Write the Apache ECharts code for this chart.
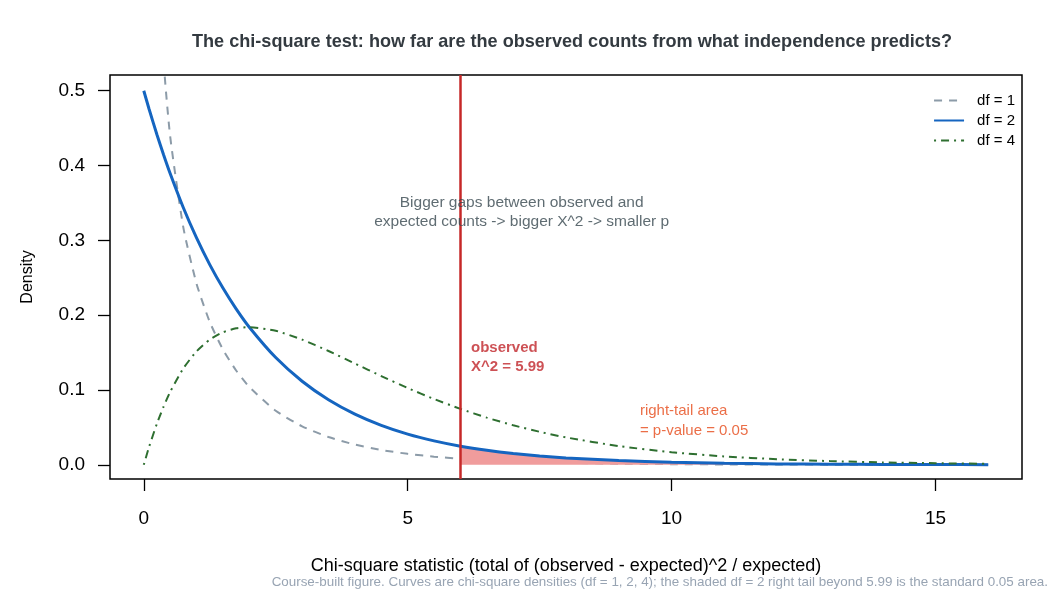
<!DOCTYPE html>
<html>
<head>
<meta charset="utf-8">
<title>Chi-square densities</title>
<script src="https://cdn.jsdelivr.net/npm/echarts@6/dist/echarts.min.js"></script>
<style>
  html, body { margin: 0; padding: 0; background: #fff; }
  #main { width: 1060px; height: 600px; }
</style>
</head>
<body>
<div id="main"></div>
<script>
// x values shared by the three curves
var xs = [0, 0.1, 0.25, 0.375, 0.5, 0.75, 1, 1.25, 1.5, 1.75, 2, 2.5, 3, 3.5, 4, 4.5, 5, 5.5, 6, 6.5, 7, 7.5, 8, 9, 10, 11, 12, 13, 14, 15, 16];
// density values
var df1 = [null, 1.200, 0.704, 0.540, 0.439, 0.317, 0.242, 0.191, 0.154, 0.126, 0.104, 0.0723, 0.0514, 0.0371, 0.0270, 0.0198, 0.0146, 0.0109, 0.0081, 0.0061, 0.0046, 0.0034, 0.0026, 0.0015, 0.0008, 0.0005, 0.0003, 0.0002, 0.0001, 0.0001, 0.0000];
var df2 = [0.5, 0.4756, 0.4412, 0.4145, 0.3894, 0.3436, 0.3033, 0.2676, 0.2362, 0.2084, 0.1839, 0.1433, 0.1116, 0.0869, 0.0677, 0.0527, 0.0410, 0.0320, 0.0249, 0.0194, 0.0151, 0.0118, 0.0092, 0.0056, 0.0034, 0.0020, 0.0012, 0.0008, 0.0005, 0.0003, 0.0002];
var df4 = [0, 0.0238, 0.0552, 0.0777, 0.0974, 0.1289, 0.1516, 0.1673, 0.1771, 0.1824, 0.1839, 0.1791, 0.1673, 0.1521, 0.1353, 0.1186, 0.1026, 0.0879, 0.0747, 0.0630, 0.0528, 0.0441, 0.0366, 0.0250, 0.0168, 0.0112, 0.0074, 0.0049, 0.0032, 0.0021, 0.0013];
// shaded right tail of df = 2 beyond the observed statistic
var tailX = [5.99, 6.5, 7, 7.5, 8, 9, 10, 11, 12, 13, 14, 15, 16];
var tailY = [0.0250, 0.0194, 0.0151, 0.0118, 0.0092, 0.0056, 0.0034, 0.0020, 0.0012, 0.0008, 0.0005, 0.0003, 0.0002];
var observedX2 = 5.99;
var xTicks = [0, 5, 10, 15];
var yTicks = [0, 0.1, 0.2, 0.3, 0.4, 0.5];

function pairs(x, y) {
    var out = [];
    for (var i = 0; i < x.length; i++) {
        if (y[i] !== null) out.push([x[i], y[i]]);
    }
    return out;
}

var font = "'Liberation Sans', Arial, sans-serif";
var chart = echarts.init(document.getElementById('main'), null, { renderer: 'canvas' });

var option = {
    animation: false,
    textStyle: { fontFamily: font },
    title: {
        text: 'The chi-square test: how far are the observed counts from what independence predicts?',
        left: 567,
        textAlign: 'center',
        top: 28,
        textStyle: { fontSize: 18.1, fontWeight: 'bold', color: '#333a40', fontFamily: font }
    },
    legend: {
        data: ['df = 1', 'df = 2', 'df = 4'],
        orient: 'vertical',
        right: 40,
        top: 88,
        itemWidth: 30,
        itemHeight: 14,
        itemGap: 5,
        itemStyle: { opacity: 0 },
        textStyle: { fontSize: 15, color: '#000', fontFamily: font, padding: [0, 0, 0, 8] }
    },
    grid: {
        left: 110, right: 38, top: 75, bottom: 121,
        show: true, borderColor: '#000', borderWidth: 1.5, backgroundColor: 'transparent'
    },
    xAxis: {
        type: 'value',
        min: -0.64, max: 16.64,
        name: 'Chi-square statistic (total of (observed - expected)^2 / expected)',
        nameLocation: 'middle',
        nameGap: 78,
        nameTextStyle: { fontSize: 18, color: '#000', fontFamily: font },
        axisLine: { show: false, onZero: false },
        axisTick: { show: true, length: 12, customValues: xTicks, lineStyle: { color: '#000', width: 1.3 } },
        axisLabel: { customValues: xTicks, margin: 30, fontSize: 19, color: '#000', fontFamily: font },
        splitLine: { show: false }
    },
    yAxis: {
        type: 'value',
        min: -0.019, max: 0.521,
        name: 'Density',
        nameLocation: 'middle',
        nameGap: 74,
        nameTextStyle: { fontSize: 16, color: '#000', fontFamily: font },
        axisLine: { show: false, onZero: false },
        axisTick: { show: true, length: 12, customValues: yTicks, lineStyle: { color: '#000', width: 1.3 } },
        axisLabel: {
            customValues: yTicks, margin: 25, fontSize: 19, color: '#000', fontFamily: font,
            formatter: function (v) { return v.toFixed(1); }
        },
        splitLine: { show: false }
    },
    series: [
        {
            name: 'df = 1', type: 'line', data: pairs(xs, df1),
            symbol: 'none', smooth: 0.2, clip: true, z: 2,
            lineStyle: { color: '#8c9ba8', width: 2, type: [8, 7] },
            itemStyle: { color: '#8c9ba8' }
        },
        {
            name: 'tail', type: 'line', data: pairs(tailX, tailY),
            symbol: 'none', smooth: 0.2, silent: true, z: 3,
            lineStyle: { width: 0 },
            areaStyle: { color: '#f09c9c', opacity: 1 },
            markLine: {
                silent: true, symbol: 'none', animation: false,
                label: { show: false },
                lineStyle: { color: '#c62828', width: 2.5, type: 'solid' },
                data: [{ xAxis: observedX2 }]
            }
        },
        {
            name: 'df = 2', type: 'line', data: pairs(xs, df2),
            symbol: 'none', smooth: 0.2, z: 4,
            lineStyle: { color: '#1565c0', width: 3 },
            itemStyle: { color: '#1565c0' }
        },
        {
            name: 'df = 4', type: 'line', data: pairs(xs, df4),
            symbol: 'none', smooth: 0.2, z: 4,
            lineStyle: { color: '#2e6f30', width: 2, type: [2, 5, 8, 5] },
            itemStyle: { color: '#2e6f30' }
        },
        {
            name: 'notes', type: 'scatter', symbolSize: 0, silent: true, z: 5,
            data: [
                {
                    value: [6.2, 0.143],
                    label: {
                        show: true, position: 'right', distance: 0, align: 'left',
                        formatter: 'observed\nX^2 = 5.99',
                        fontSize: 15, fontWeight: 'bold', lineHeight: 19, color: '#c0262b', fontFamily: font
                    }
                },
                {
                    value: [9.4, 0.059],
                    label: {
                        show: true, position: 'right', distance: 0, align: 'left',
                        formatter: 'right-tail area\n= p-value = 0.05',
                        fontSize: 15, lineHeight: 20, color: '#e64a19', fontFamily: font
                    }
                },
                {
                    value: [7.16, 0.337],
                    label: {
                        show: true, position: 'inside', align: 'center',
                        formatter: 'Bigger gaps between observed and\nexpected counts -> bigger X^2 -> smaller p',
                        fontSize: 15.5, lineHeight: 19, color: '#37474f', fontFamily: font
                    }
                }
            ]
        }
    ],
    graphic: [{
        type: 'text',
        right: 12,
        top: 576,
        style: {
            text: 'Course-built figure. Curves are chi-square densities (df = 1, 2, 4); the shaded df = 2 right tail beyond 5.99 is the standard 0.05 area.',
            fontSize: 13.4,
            fill: '#98a4b3',
            fontFamily: font
        }
    }]
};

chart.setOption(option);
</script>
</body>
</html>
